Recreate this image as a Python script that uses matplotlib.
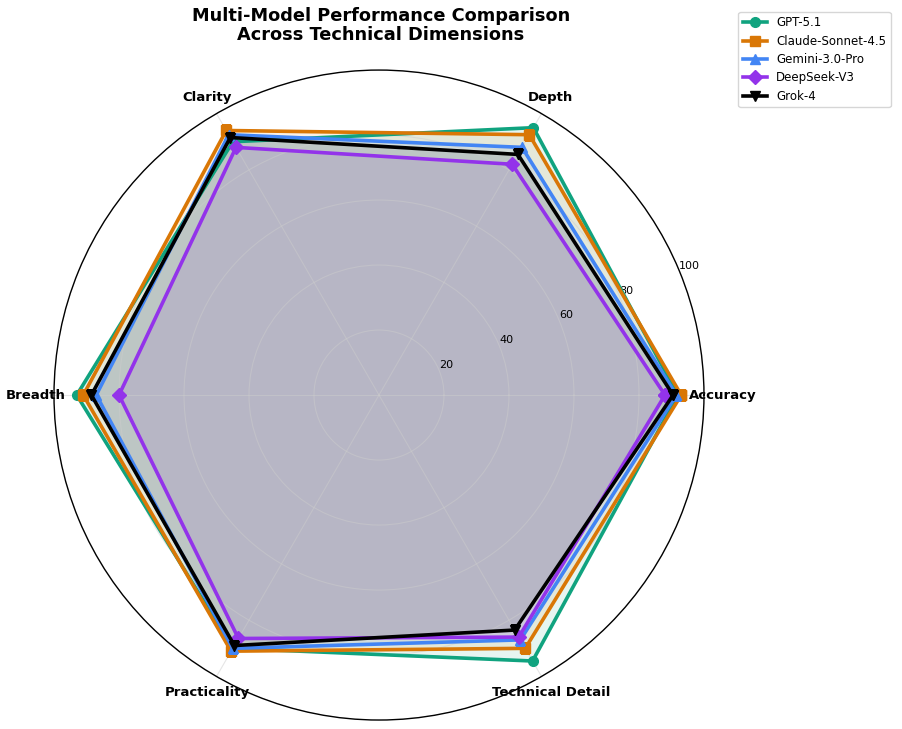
"""Radar chart: multi-model performance across technical dimensions."""
import matplotlib
matplotlib.use("Agg")
import matplotlib.pyplot as plt
import numpy as np

categories = ["Accuracy", "Depth", "Clarity", "Breadth", "Practicality", "Technical Detail"]
models = ["GPT-5.1", "Claude-Sonnet-4.5", "Gemini-3.0-Pro", "DeepSeek-V3", "Grok-4"]

gpt = [92, 95, 90, 93, 90, 94.5]
claude = [93, 92.5, 94, 91, 91, 90]
gemini = [91.5, 88, 92.5, 87, 90, 87]
deepseek = [88, 82, 88, 80, 86.5, 86]
grok = [90.5, 85.5, 91.5, 88.5, 89, 83.5]

series = [gpt, claude, gemini, deepseek, grok]
colors = ["#10A37F", "#D97706", "#4285F4", "#9333EA", "#000000"]
markers = ["o", "s", "^", "D", "v"]
r_ticks = [20, 40, 60, 80, 100]

angles = np.linspace(0, 2 * np.pi, len(categories), endpoint=False)
closed = np.concatenate([angles, angles[:1]])

fig = plt.figure(figsize=(9.03, 7.29), dpi=100)
ax = fig.add_axes([0.0598, 0.0123, 0.7198, 0.8916], polar=True)

for name, vals, col, mk in zip(models, series, colors, markers):
    v = np.concatenate([vals, vals[:1]])
    ax.plot(closed, v, color=col, linewidth=2.6, marker=mk, markersize=7, label=name)
    ax.fill(closed, v, color=col, alpha=0.1)

ax.set_ylim(0, 100)
ax.set_yticks(r_ticks)
ax.set_yticklabels([str(t) for t in r_ticks], fontsize=8)
ax.set_rlabel_position(22.5)
ax.set_xticks(angles)
ax.set_xticklabels(categories, fontsize=9.5, fontweight="bold")
ax.tick_params(axis="x", pad=3)
ax.grid(color="#cccccc", alpha=0.5, linewidth=0.8)
ax.spines["polar"].set_linewidth(1.0)

fig.text(0.422, 0.99, "Multi-Model Performance Comparison\nAcross Technical Dimensions",
         ha="center", va="top", fontsize=12.8, fontweight="bold", linespacing=1.05)
fig.legend(loc="upper right", bbox_to_anchor=(0.993, 0.992), fontsize=8.5,
           labelspacing=0.45)

fig.savefig("out.png", dpi=100)
